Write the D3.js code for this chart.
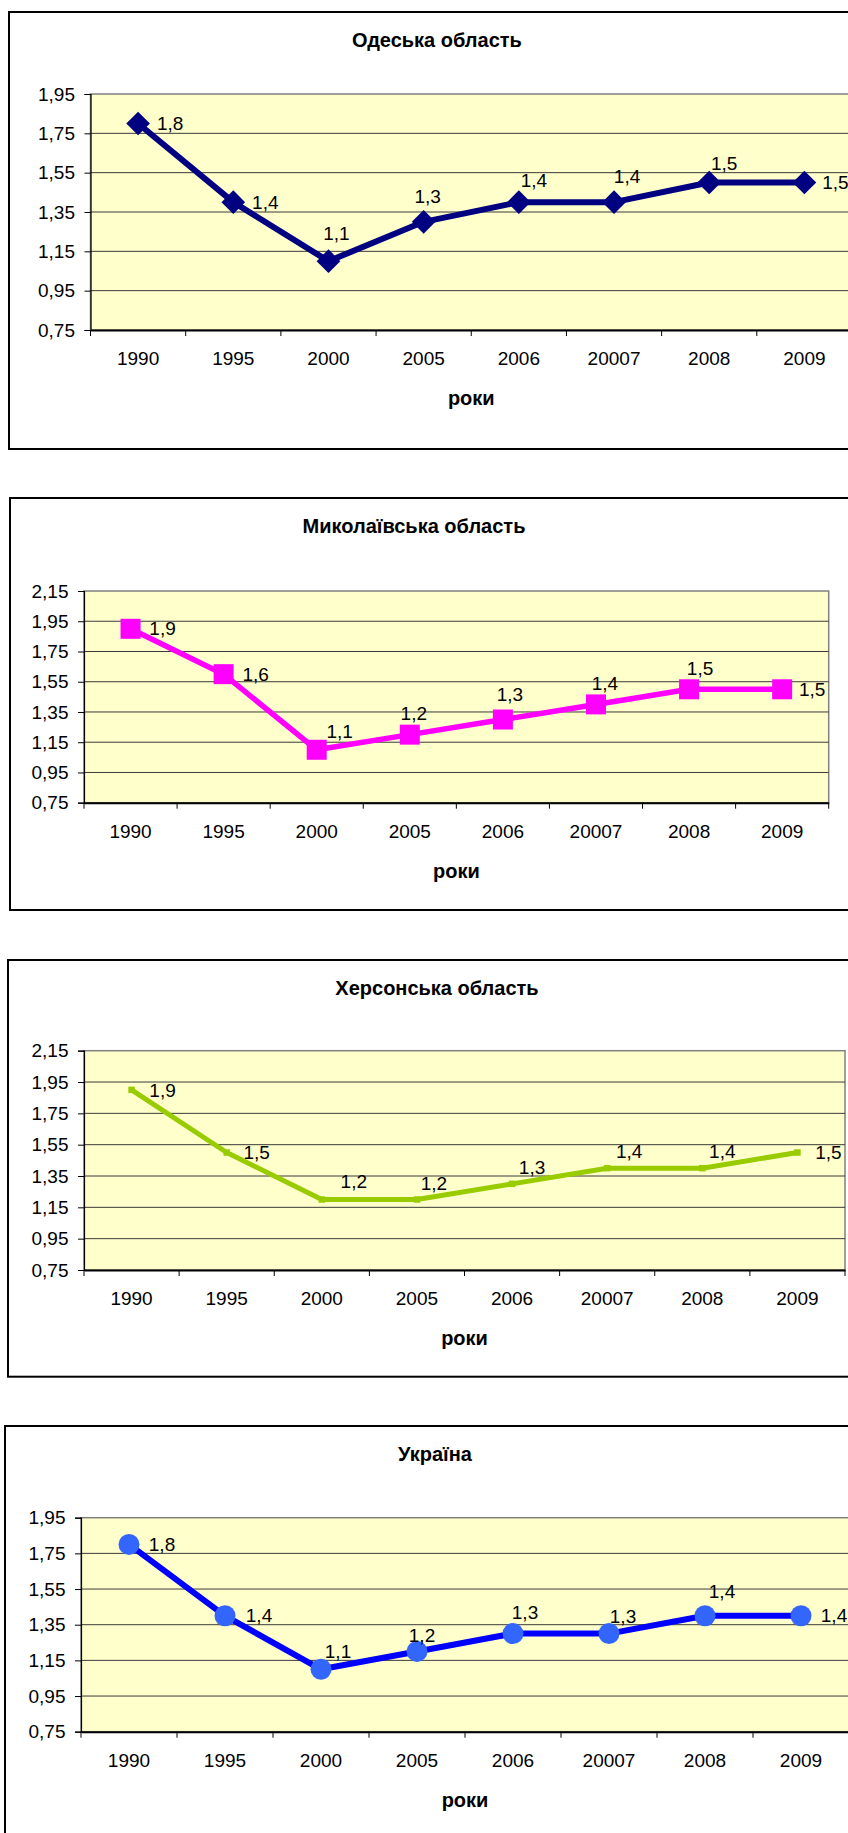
<!DOCTYPE html>
<html>
<head>
<meta charset="utf-8">
<script src="https://cdn.jsdelivr.net/npm/d3@7"></script>
<style>
  body { margin: 0; background: #fff; }
  svg { display: block; }
  text { font-family: "Liberation Sans", Arial, sans-serif; fill: #000; }
</style>
</head>
<body>
<svg width="848" height="1833"></svg>
<script>
// data
var years = ["1990", "1995", "2000", "2005", "2006", "20007", "2008", "2009"];
var odesa = [1.8, 1.4, 1.1, 1.3, 1.4, 1.4, 1.5, 1.5];
var mykolaiv = [1.9, 1.6, 1.1, 1.2, 1.3, 1.4, 1.5, 1.5];
var kherson = [1.9, 1.5, 1.2, 1.2, 1.3, 1.4, 1.4, 1.5];
var ukraine = [1.8, 1.4, 1.1, 1.2, 1.3, 1.3, 1.4, 1.4];
var ticksShort = [0.75, 0.95, 1.15, 1.35, 1.55, 1.75, 1.95];
var ticksLong = [0.75, 0.95, 1.15, 1.35, 1.55, 1.75, 1.95, 2.15];
var titles = ["Одеська область", "Миколаївська область", "Херсонська область", "Україна"];
var axisTitle = "роки";

var svg = d3.select("svg");

// label offsets from the marker (hand placed in the original)
var R = [32, 0];
var charts = [
  { title: titles[0], values: odesa, ticks: ticksShort,
    box: [9, 12, 880, 449], plot: [90.5, 94, 852, 330], titleX: 437,
    color: "#000080", lineColor: "#000080", lw: 6, marker: "diamond",
    labels: [R, R, [8, -28], [4, -25], [15, -22], [13, -26], [15, -19], [31, 0]] },
  { title: titles[1], values: mykolaiv, ticks: ticksLong,
    box: [10, 498, 880, 910], plot: [84, 591, 828.7, 802.7], titleX: 414,
    color: "#FF00FF", lineColor: "#FF00FF", lw: 5.5, marker: "square",
    labels: [R, R, [23, -18], [4, -21], [7, -25], [9, -21], [11, -21], [30, 0]] },
  { title: titles[2], values: kherson, ticks: ticksLong,
    box: [8, 960, 880, 1376.7], plot: [84, 1050.7, 845, 1270], titleX: 437,
    color: "#99CC00", lineColor: "#99CC00", lw: 5, marker: "small",
    labels: [[31, 0], [30, 0], [32, -18], [17, -16], [20, -16], [22, -17], [20, -17], [31, 0]] },
  { title: titles[3], values: ukraine, ticks: ticksShort,
    box: [5, 1426, 880, 1860], plot: [81, 1517.7, 849, 1731.7], titleX: 435,
    color: "#3366FF", lineColor: "#0000FF", lw: 6, marker: "circle",
    labels: [[33, 0], [34, 0], [17, -18], [5, -16], [12, -21], [14, -17], [17, -24], [33, 0]] }
];

var comma = function(d) { return d3.format(".2f")(d).replace(".", ","); };

charts.forEach(function(c) {
  var g = svg.append("g");
  var left = c.plot[0], top = c.plot[1], right = c.plot[2], bottom = c.plot[3];

  // chart border
  g.append("rect")
    .attr("x", c.box[0]).attr("y", c.box[1])
    .attr("width", c.box[2] - c.box[0]).attr("height", c.box[3] - c.box[1])
    .attr("fill", "#fff").attr("stroke", "#000").attr("stroke-width", 2);

  var x = d3.scaleBand().domain(years).range([left, right]).padding(0);
  var y = d3.scaleLinear().domain([c.ticks[0], c.ticks[c.ticks.length - 1]]).range([bottom, top]);

  // plot area
  g.append("rect")
    .attr("x", left).attr("y", top)
    .attr("width", right - left).attr("height", bottom - top)
    .attr("fill", "#FFFFCC").attr("stroke", "#808080").attr("stroke-width", 1.5);

  // gridlines
  g.selectAll(".grid")
    .data(c.ticks.slice(1, -1))
    .enter().append("line")
      .attr("x1", left).attr("x2", right)
      .attr("y1", function(d) { return y(d); })
      .attr("y2", function(d) { return y(d); })
      .attr("stroke", "#3a3a3a").attr("stroke-width", 1);

  // y axis
  var ya = g.append("g")
    .attr("transform", "translate(" + left + ",0)")
    .call(d3.axisLeft(y).tickValues(c.ticks).tickSize(6).tickPadding(9.5).tickFormat(comma));
  ya.select(".domain").attr("stroke", "#000").attr("stroke-width", 1.2);
  ya.selectAll("text").style("font-size", "19px").style("font-family", "Liberation Sans, Arial");
  ya.selectAll(".tick line").attr("stroke", "#000");

  // x axis
  var xa = g.append("g")
    .attr("transform", "translate(0," + bottom + ")")
    .call(d3.axisBottom(x).tickSize(0).tickPadding(22));
  xa.select(".domain").attr("stroke", "#000").attr("stroke-width", 2);
  xa.selectAll("text").style("font-size", "19px").style("font-family", "Liberation Sans, Arial");

  // category boundary ticks
  var edges = years.map(function(d) { return x(d); }).concat([right]);
  g.selectAll(".xtick")
    .data(edges)
    .enter().append("line")
      .attr("x1", function(d) { return d; }).attr("x2", function(d) { return d; })
      .attr("y1", bottom).attr("y2", bottom + 6)
      .attr("stroke", "#000").attr("stroke-width", 1);

  // titles
  g.append("text")
    .attr("x", c.titleX).attr("y", c.box[1] + 28)
    .attr("text-anchor", "middle").attr("dy", "0.35em")
    .style("font-size", "20px").style("font-weight", "bold")
    .text(c.title);
  g.append("text")
    .attr("x", (left + right) / 2).attr("y", bottom + 68)
    .attr("text-anchor", "middle").attr("dy", "0.35em")
    .style("font-size", "20px").style("font-weight", "bold")
    .text(axisTitle);

  var cx = function(d, i) { return x(years[i]) + x.bandwidth() / 2; };

  // the line
  var line = d3.line()
    .x(function(d, i) { return cx(d, i); })
    .y(function(d) { return y(d); });
  g.append("path")
    .datum(c.values)
    .attr("d", line)
    .attr("fill", "none")
    .attr("stroke", c.lineColor)
    .attr("stroke-width", c.lw)
    .attr("stroke-linejoin", "round");

  // markers
  var sym;
  if (c.marker == "diamond") sym = d3.symbol().type(d3.symbolSquare).size(280);
  else if (c.marker == "square") sym = d3.symbol().type(d3.symbolSquare).size(400);
  else if (c.marker == "small") sym = d3.symbol().type(d3.symbolSquare).size(42);
  else sym = d3.symbol().type(d3.symbolCircle).size(346);

  g.selectAll(".marker")
    .data(c.values)
    .enter().append("path")
      .attr("d", sym)
      .attr("transform", function(d, i) {
        return "translate(" + cx(d, i) + "," + y(d) + ")" + (c.marker == "diamond" ? " rotate(45)" : "");
      })
      .attr("fill", c.color);

  // data labels
  g.selectAll(".lbl")
    .data(c.values)
    .enter().append("text")
      .attr("x", function(d, i) { return cx(d, i) + c.labels[i][0]; })
      .attr("y", function(d, i) { return y(d) + c.labels[i][1]; })
      .attr("text-anchor", "middle")
      .attr("dy", "0.35em")
      .style("font-size", "19px")
      .text(function(d) { return String(d).replace(".", ","); });
});
</script>
</body>
</html>
